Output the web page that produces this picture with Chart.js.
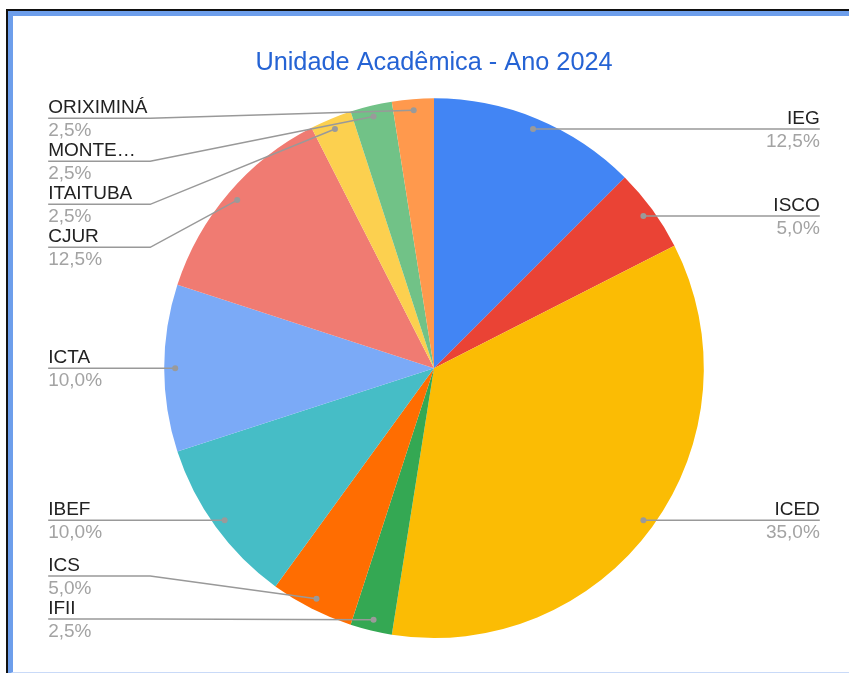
<!DOCTYPE html>
<html>
<head>
<meta charset="utf-8">
<script src="https://cdn.jsdelivr.net/npm/chart.js@4.4.1/dist/chart.umd.min.js"></script>
<style>
    body { margin: 0; background: #fff; overflow: hidden; }
    #frame-outer {
        position: absolute; left: 6px; top: 9px; width: 900px; height: 700px;
        border-left: 2px solid #111; border-top: 2px solid #111;
    }
    #frame-inner {
        position: absolute; left: 8px; top: 11px; width: 900px; height: 656px;
        border-left: 5px solid #6d9eeb; border-top: 5px solid #6d9eeb;
        border-bottom: 2px solid #c9daf8;
    }
    #chart { position: absolute; left: 0; top: 0; }
</style>
</head>
<body>
<div id="frame-outer"></div>
<div id="frame-inner"></div>
<canvas id="chart" width="849" height="673"></canvas>
<script>
const labels = ["IEG", "ISCO", "ICED", "IFII", "ICS", "IBEF", "ICTA", "CJUR", "ITAITUBA", "MONTE…", "ORIXIMINÁ"];
const counts = [5, 2, 14, 1, 2, 4, 4, 5, 1, 1, 1];
const colors = ["#4285f4", "#ea4335", "#fbbc04", "#34a853", "#ff6d01", "#46bdc6",
                "#7baaf7", "#f07b72", "#fcd04f", "#71c287", "#ff994d"];

const labelFont = "19px 'Liberation Sans', Arial, sans-serif";

// callout labels like the Sheets pie: dot inside slice, line out to the side
const calloutPlugin = {
    id: "callouts",
    afterDraw(chart) {
        const ctx = chart.ctx;
        const arcs = chart.getDatasetMeta(0).data;
        const total = counts.reduce((a, b) => a + b, 0);
        const area = chart.chartArea;
        const gap = 43;
        const left = [], right = [];

        arcs.forEach((arc, i) => {
            const mid = (arc.startAngle + arc.endAngle) / 2;
            const r = arc.outerRadius - 11;
            const item = {
                i: i,
                dx: arc.x + Math.cos(mid) * r,
                dy: arc.y + Math.sin(mid) * r,
                cx: arc.x,
                R: arc.outerRadius
            };
            (Math.cos(mid) >= 0 ? right : left).push(item);
        });

        [left, right].forEach(side => {
            side.sort((a, b) => a.dy - b.dy);
            const minY = area.top + 20, maxY = area.bottom - 19;
            for (let k = 0; k < side.length; k++) {
                let y = Math.max(side[k].dy, minY);
                if (k > 0) y = Math.max(y, side[k - 1].ly + gap);
                side[k].ly = y;
            }
            for (let k = side.length - 1; k >= 0; k--) {
                let y = Math.min(side[k].ly, maxY);
                if (k < side.length - 1) y = Math.min(y, side[k + 1].ly - gap);
                side[k].ly = y;
            }
        });

        ctx.save();
        ctx.font = labelFont;
        const drawSide = (side, isLeft) => {
            side.forEach(it => {
                const tx = isLeft ? it.cx - it.R - 116 : it.cx + it.R + 116;
                const elbow = isLeft ? tx + 102 : tx - 102;
                ctx.strokeStyle = "#999";
                ctx.lineWidth = 1.5;
                ctx.beginPath();
                ctx.moveTo(tx, it.ly);
                if (Math.abs(it.ly - it.dy) > 0.5) ctx.lineTo(elbow, it.ly);
                ctx.lineTo(it.dx, it.dy);
                ctx.stroke();
                ctx.fillStyle = "#9a9a9a";
                ctx.beginPath();
                ctx.arc(it.dx, it.dy, 3, 0, Math.PI * 2);
                ctx.fill();

                ctx.textAlign = isLeft ? "left" : "right";
                ctx.textBaseline = "alphabetic";
                ctx.fillStyle = "#222";
                ctx.fillText(labels[it.i], tx, it.ly - 5);
                const pct = (counts[it.i] / total * 100).toFixed(1).replace(".", ",") + "%";
                ctx.fillStyle = "#a3a3a3";
                ctx.fillText(pct, tx, it.ly + 18);
            });
        };
        drawSide(left, true);
        drawSide(right, false);
        ctx.restore();
    }
};

const chart = new Chart(document.getElementById("chart").getContext("2d"), {
    type: "pie",
    data: {
        labels: labels,
        datasets: [{
            data: counts,
            backgroundColor: colors,
            borderWidth: 0
        }]
    },
    options: {
        responsive: false,
        animation: false,
        devicePixelRatio: 1,
        layout: {
            padding: { left: 164, right: 145, top: 0, bottom: 35 }
        },
        plugins: {
            legend: { display: false },
            tooltip: { enabled: false },
            title: {
                display: true,
                text: "Unidade Acadêmica - Ano 2024",
                color: "#2563d4",
                font: { family: "'Liberation Sans', Arial, sans-serif", size: 25.3, weight: "normal" },
                padding: { top: 47.4, bottom: 20.6 }
            }
        }
    },
    plugins: [calloutPlugin]
});
</script>
</body>
</html>
